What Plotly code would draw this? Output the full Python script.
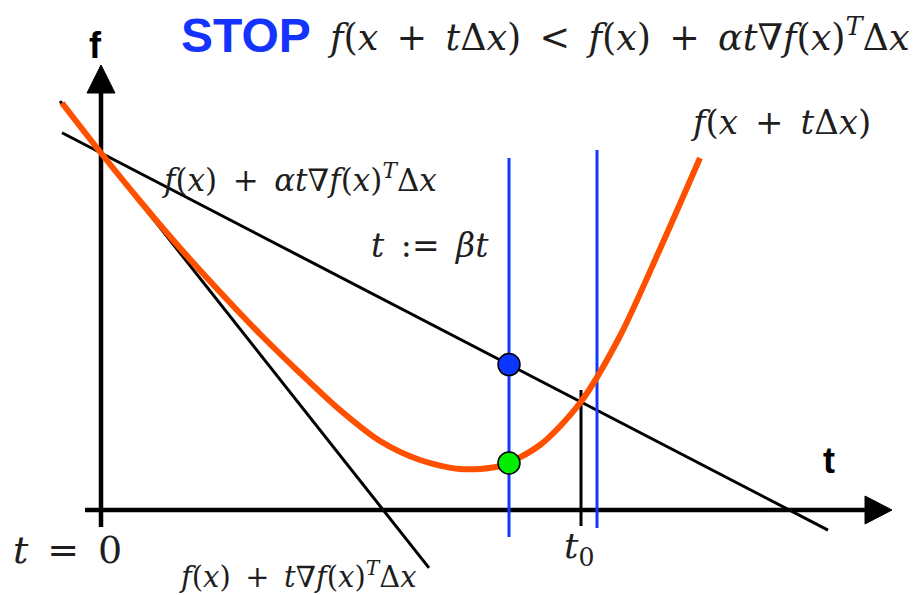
import plotly.graph_objects as go

# ---- data (t along the step direction, f = function value) ----
curve_t = [-0.39, 0.00, 0.39, 0.79, 1.19, 1.59, 1.99, 2.39, 2.79, 3.19, 3.59,
           3.99, 4.39, 4.79, 5.19, 5.59, 5.99]
curve_f = [4.07, 3.57, 3.09, 2.62, 2.18, 1.76, 1.37, 1.00, 0.69, 0.50, 0.41,
           0.44, 0.65, 1.07, 1.74, 2.61, 3.52]

f0 = 3.57                 # f(x) at t = 0
grad_slope = -1.265       # directional derivative  ∇f(x)^T Δx
alpha = 0.41              # sufficient-decrease factor
tangent_t = [-0.41, 3.28]
armijo_t = [-0.39, 7.27]

t_trial = 4.08            # current step t
t_prev = 4.96             # previous step (before t := βt)
t0 = 4.80                 # where the curve meets the Armijo line
f_trial = 0.47            # f(x + t Δx) at t_trial

vlines_trial = [-0.27, 3.52]
vlines_prev = [-0.18, 3.60]
vline_t0 = [-0.16, 1.20]

t_axis = [-0.16, 7.64]
f_axis = [-0.17, 4.17]

BLACK = "#000000"
ORANGE = "#ff5000"
BLUE = "#1238ff"
TEXT = "#1e1e1e"
SERIF = "DejaVu Serif, serif"
SANS = "Liberation Sans, Arial, sans-serif"
SP = "\u2002"  # en space around math operators

fig = go.Figure()

def line(xs, ys, color, width):
    fig.add_trace(go.Scatter(x=xs, y=ys, mode="lines",
                             line=dict(color=color, width=width),
                             hoverinfo="skip", showlegend=False))

# axes with arrow heads
line(t_axis, [0, 0], BLACK, 4.5)
line([0, 0], f_axis, BLACK, 4.5)
fig.add_trace(go.Scatter(x=[7.64, 7.91, 7.64, 7.64], y=[0.14, 0, -0.14, 0.14],
                         fill="toself", fillcolor=BLACK, mode="lines",
                         line=dict(color=BLACK, width=1), hoverinfo="skip",
                         showlegend=False))
fig.add_trace(go.Scatter(x=[-0.14, 0, 0.14, -0.14], y=[4.17, 4.45, 4.17, 4.17],
                         fill="toself", fillcolor=BLACK, mode="lines",
                         line=dict(color=BLACK, width=1), hoverinfo="skip",
                         showlegend=False))

# tangent line f(x) + t ∇f(x)^T Δx
line(tangent_t, [f0 + grad_slope * t for t in tangent_t], BLACK, 3)
# Armijo line f(x) + α t ∇f(x)^T Δx
line(armijo_t, [f0 + alpha * grad_slope * t for t in armijo_t], BLACK, 3)

# t0 marker
line([t0, t0], vline_t0, BLACK, 3)

# step lines
line([t_trial, t_trial], vlines_trial, BLUE, 3)
line([t_prev, t_prev], vlines_prev, BLUE, 3)

# function along the ray
fig.add_trace(go.Scatter(x=curve_t, y=curve_f, mode="lines",
                         line=dict(color=ORANGE, width=6, shape="spline", smoothing=0.8),
                         hoverinfo="skip", showlegend=False))

# points at the trial step
fig.add_trace(go.Scatter(x=[t_trial], y=[f0 + alpha * grad_slope * t_trial],
                         mode="markers",
                         marker=dict(size=22, color="#0a36ff",
                                     line=dict(color=BLACK, width=1.5)),
                         hoverinfo="skip", showlegend=False))
fig.add_trace(go.Scatter(x=[t_trial], y=[f_trial], mode="markers",
                         marker=dict(size=22, color="#00ee00",
                                     line=dict(color=BLACK, width=1.5)),
                         hoverinfo="skip", showlegend=False))

def label(x, y, text, size, family=SERIF, color=TEXT, xanchor="center"):
    fig.add_annotation(x=x, y=y, xref="x", yref="y", text=text, showarrow=False,
                       xanchor=xanchor, yanchor="middle",
                       font=dict(family=family, size=size, color=color))

label(-0.06, 4.65, "<b>f</b>", 36, SANS, BLACK)
label(7.28, 0.50, "<b>t</b>", 36, SANS, BLACK)
label(1.45, 4.75, "<b>STOP</b>", 48, SANS, "#1533ff")
label(2.24, 4.75,
      f"<i>f</i>(<i>x</i>{SP}+{SP}<i>t</i>Δ<i>x</i>){SP}&lt;{SP}<i>f</i>(<i>x</i>){SP}+{SP}"
      "<i>αt</i>∇<i>f</i>(<i>x</i>)<sup><i>T</i></sup>Δ<i>x</i>",
      36.5, xanchor="left")
label(6.79, 3.88, f"<i>f</i>(<i>x</i>{SP}+{SP}<i>t</i>Δ<i>x</i>)", 34)
label(0.59, 3.32,
      f"<i>f</i>(<i>x</i>){SP}+{SP}<i>αt</i>∇<i>f</i>(<i>x</i>)<sup><i>T</i></sup>Δ<i>x</i>",
      31, xanchor="left")
label(3.29, 2.65, f"<i>t</i>{SP}:={SP}<i>βt</i>", 33)
label(-0.34, -0.40, f"<i>t</i>{SP}={SP}0", 38)
label(t0 - 0.02, -0.38, "<i>t</i><sub>0</sub>", 36)
label(0.76, -0.65,
      f"<i>f</i>(<i>x</i>){SP}+{SP}<i>t</i>∇<i>f</i>(<i>x</i>)<sup><i>T</i></sup>Δ<i>x</i>",
      29, xanchor="left")

fig.update_layout(
    width=914, height=595,
    margin=dict(l=0, r=0, t=0, b=0),
    paper_bgcolor="white", plot_bgcolor="white",
    xaxis=dict(range=[-1.01, 8.13], visible=False, fixedrange=True),
    yaxis=dict(range=[-0.85, 5.10], visible=False, fixedrange=True),
    showlegend=False,
)

fig.write_html("out.html")
